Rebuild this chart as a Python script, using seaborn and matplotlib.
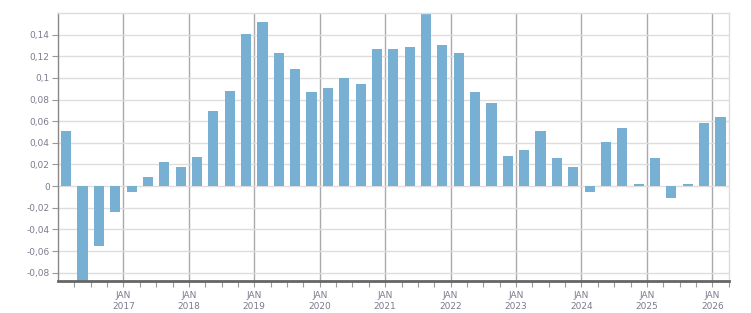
import numpy as np
import pandas as pd
import matplotlib
matplotlib.use('Agg')
import matplotlib.pyplot as plt
import seaborn as sns
from matplotlib.ticker import FixedLocator, FuncFormatter

# ======================
# DATA (quarterly, Q1 2016 .. Q1 2026)
# ======================
quarters = pd.period_range('2016Q1', '2026Q1', freq='Q')
values = [0.051, -0.095, -0.055, -0.024, -0.005, 0.008, 0.022, 0.018,
          0.027, 0.069, 0.088, 0.141, 0.152, 0.123, 0.108, 0.087,
          0.091, 0.100, 0.094, 0.127, 0.127, 0.129, 0.159, 0.130,
          0.123, 0.087, 0.077, 0.028, 0.033, 0.051, 0.026, 0.018,
          -0.005, 0.041, 0.054, 0.002, 0.026, -0.011, 0.002, 0.058,
          0.064]
year_ticks = list(range(2017, 2027))
y_ticks = [-0.08, -0.06, -0.04, -0.02, 0, 0.02, 0.04, 0.06, 0.08, 0.1, 0.12, 0.14]

# bar centre = middle of the quarter, in decimal years
xpos = [p.year + (p.quarter - 0.5) / 4 for p in quarters]
df = pd.DataFrame({'x': xpos, 'valor': values})

# ======================
# FIGURE
# ======================
sns.set_style('white')
plt.rcParams['font.family'] = ['DejaVu Sans']
txt_color = '#7b7b8f'

fig = plt.figure(figsize=(7.51, 3.13), dpi=100)
ax = fig.add_axes([58 / 751, 32 / 313, 671 / 751, 268 / 313])

sns.barplot(data=df, x='x', y='valor', native_scale=True, width=0.62,
            color='#77b0d2', saturation=1, errorbar=None, linewidth=0, ax=ax)

ax.set_xlim(2016.0, 2026.255)
ax.set_ylim(-0.0877, 0.16)
ax.set_axisbelow(True)

# y axis
ax.yaxis.set_major_locator(FixedLocator(y_ticks))
ax.yaxis.set_major_formatter(FuncFormatter(lambda v, p: f'{v:g}'.replace('.', ',')))
ax.grid(axis='y', color='#dddddd', linewidth=1)

# x axis: year gridlines + quarter minor ticks
ax.xaxis.set_major_locator(FixedLocator(year_ticks))
ax.xaxis.set_major_formatter(FuncFormatter(lambda v, p: f'JAN\n{int(round(v))}'))
ax.xaxis.set_minor_locator(FixedLocator(np.arange(2016.25, 2026.26, 0.25)))
ax.grid(axis='x', which='major', color='#aaaaaa', linewidth=1)

ax.tick_params(axis='y', length=4, width=0.8, color='#999999', labelcolor=txt_color,
               labelsize=6.5, pad=2, left=True)
ax.tick_params(axis='x', which='both', length=4, width=0.8, color='#999999',
               labelcolor=txt_color, labelsize=6.5, pad=3, bottom=True)
for lbl in ax.get_xticklabels():
    lbl.set_linespacing(1.35)

ax.set_xlabel('')
ax.set_ylabel('')

for side in ['top', 'right']:
    ax.spines[side].set_visible(True)
    ax.spines[side].set_color('#dddddd')
    ax.spines[side].set_linewidth(1)
ax.spines['left'].set_color('#888888')
ax.spines['left'].set_linewidth(1)
ax.spines['bottom'].set_color('#666666')
ax.spines['bottom'].set_linewidth(2)

fig.savefig('out.png', dpi=100)
